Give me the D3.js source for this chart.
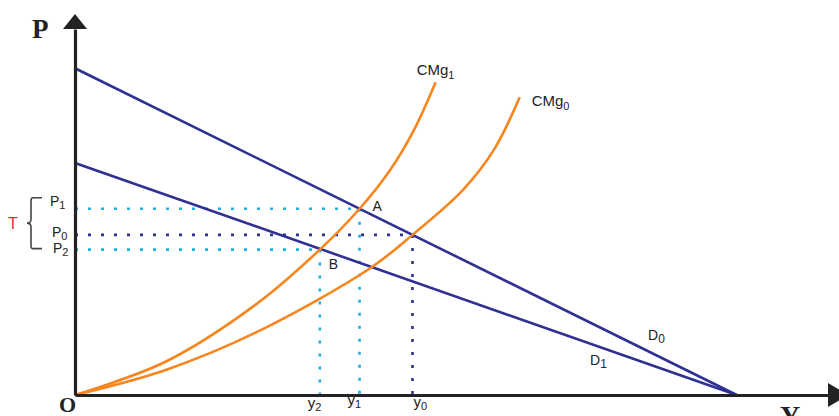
<!DOCTYPE html>
<html>
<head>
<meta charset="utf-8">
<script src="https://cdn.jsdelivr.net/npm/d3@7"></script>
<style>
  html, body { margin: 0; padding: 0; background: #fff; }
  svg { display: block; }
  text { font-family: "Liberation Sans", Arial, sans-serif; fill: #222; }
  .big { font-family: "Liberation Serif", "Times New Roman", serif; font-weight: bold; }
</style>
</head>
<body>
<svg id="chart" width="839" height="416"></svg>
<script>
// Demand curves (quantity, price)
const d0Q = [0, 100];
const d0P = [100, 0];
const d1Q = [0, 100];
const d1P = [71, 0];

// Marginal cost curves before (CMg0) and after (CMg1) the tax
const cmg1Q = [0, 13.6, 27.2, 37.0, 43.0, 47.6, 51.2, 54.5];
const cmg1P = [0, 10.1, 27.5, 44.5, 57.0, 68.8, 81.0, 95.7];
const cmg0Q = [0, 13.6, 27.2, 44.6, 51.0, 58.6, 63.3, 67.2];
const cmg0P = [0, 7.6, 19.0, 38.8, 49.0, 62.7, 75.0, 91.1];

// Equilibrium prices and quantities
const priceNames = ["1", "0", "2"];     // P1, P0, P2
const priceValues = [57, 49, 44.5];
const qtyNames = ["2", "1", "0"];       // y2, y1, y0
const qtyValues = [37, 43, 51];
const pointNames = ["A", "B"];
const pointQ = [43, 37];
const pointP = [57, 44.5];

const NAVY = "#2e3192", ORANGE = "#f7861f", SKY = "#1fb0e6", AXIS = "#222";

const svg = d3.select("#chart");
const x = d3.scaleLinear().domain([0, 114.4]).range([75, 832]);
const y = d3.scaleLinear().domain([0, 112]).range([395, 29]);

const zip = (qs, ps) => qs.map((q, i) => ({ q, p: ps[i] }));
const line = d3.line().x(d => x(d.q)).y(d => y(d.p));
const smooth = d3.line().x(d => x(d.q)).y(d => y(d.p)).curve(d3.curveCatmullRom.alpha(0.5));

// Dotted guide lines
const guides = svg.append("g").attr("stroke-width", 2.6).attr("stroke-dasharray", "3 10").attr("fill", "none");
const guideColor = [SKY, NAVY, SKY];
const guideQ = [qtyValues[1], qtyValues[2], qtyValues[0]];
priceValues.forEach((p, i) => {
  guides.append("path").attr("stroke", guideColor[i])
    .attr("d", line([{ q: 0, p }, { q: guideQ[i], p }]));
  guides.append("path").attr("stroke", guideColor[i])
    .attr("d", line([{ q: guideQ[i], p }, { q: guideQ[i], p: 0 }]));
});

// Demand lines
[[d0Q, d0P], [d1Q, d1P]].forEach(([qs, ps]) => {
  svg.append("path").attr("fill", "none").attr("stroke", NAVY).attr("stroke-width", 2.6)
    .attr("d", line(zip(qs, ps)));
});

// Marginal cost curves
[[cmg1Q, cmg1P], [cmg0Q, cmg0P]].forEach(([qs, ps]) => {
  svg.append("path").attr("fill", "none").attr("stroke", ORANGE).attr("stroke-width", 2.6)
    .attr("d", smooth(zip(qs, ps)));
});

// Axes
const xAxis = svg.append("g").attr("transform", `translate(0,${y(0)})`)
  .call(d3.axisBottom(x).tickValues([]).tickSizeOuter(0));
const yAxis = svg.append("g").attr("transform", `translate(${x(0)},0)`)
  .call(d3.axisLeft(y).tickValues([]).tickSizeOuter(0));
[xAxis, yAxis].forEach(g => g.select(".domain").attr("stroke", AXIS).attr("stroke-width", 3.2));
svg.append("path").attr("fill", AXIS)
  .attr("d", `M${x(0)},14 L${x(0) - 12},${y.range()[1]} L${x(0) + 12},${y.range()[1]} Z`);
svg.append("path").attr("fill", AXIS)
  .attr("d", `M848,${y(0)} L${x.range()[1] - 4},${y(0) - 12} L${x.range()[1] - 4},${y(0) + 12} Z`);

svg.append("text").attr("class", "big").attr("x", 32).attr("y", 38).attr("font-size", 27).text("P");
svg.append("text").attr("class", "big").attr("x", 59).attr("y", 412).attr("font-size", 22).text("O");
svg.append("text").attr("class", "big").attr("x", 780).attr("y", 425).attr("font-size", 28).text("Y");

// Labels with subscripts
function subLabel(px, py, main, sub, size, subSize, dy) {
  const t = svg.append("text").attr("x", px).attr("y", py).attr("font-size", size);
  t.append("tspan").text(main);
  t.append("tspan").attr("font-size", subSize).attr("dy", dy).text(sub);
  return t;
}

// Price labels on the vertical axis
const priceDx = [50, 52, 53];
const priceDy = [-3, 2, 3];
priceValues.forEach((p, i) => {
  subLabel(priceDx[i], y(p) + priceDy[i], "P", priceNames[i], 14, 11, 3);
});

// Quantity labels under the horizontal axis
const qtyDx = [-12, -12, 1];
const qtyDy = [13, 10, 12];
qtyValues.forEach((q, i) => {
  subLabel(x(q) + qtyDx[i], y(0) + qtyDy[i], "y", qtyNames[i], 15, 11, 3);
});

// Equilibrium point labels
svg.append("text").attr("x", x(pointQ[0]) + 13).attr("y", y(pointP[0]) + 2).attr("font-size", 14).text(pointNames[0]);
svg.append("text").attr("x", x(pointQ[1]) + 9).attr("y", y(pointP[1]) + 19).attr("font-size", 14).text(pointNames[1]);

// Curve labels
subLabel(x(cmg1Q[cmg1Q.length - 1]) - 19, y(cmg1P[cmg1P.length - 1]) - 7, "CMg", "1", 15, 11, 4);
subLabel(x(cmg0Q[cmg0Q.length - 1]) + 12, y(cmg0P[cmg0P.length - 1]) + 9, "CMg", "0", 15, 11, 4);
subLabel(648, 340, "D", "0", 14, 12, 3);
subLabel(590, 365, "D", "1", 14, 12, 3);

// Tax bracket spanning P1..P2
const braceTop = y(priceValues[0]) - 11, braceBot = y(priceValues[2]) - 1, braceMid = (braceTop + braceBot) / 2;
svg.append("path").attr("fill", "none").attr("stroke", "#444").attr("stroke-width", 1.6)
  .attr("d", `M42,${braceTop} H33 Q31,${braceTop} 31,${braceTop + 3} V${braceMid - 4} Q31,${braceMid} 27,${braceMid} Q31,${braceMid} 31,${braceMid + 4} V${braceBot - 2} Q31,${braceBot} 33,${braceBot} H42`);
svg.append("text").attr("x", 8).attr("y", braceMid + 6).attr("font-size", 16).style("fill", "#e8262b").text("T");
</script>
</body>
</html>
